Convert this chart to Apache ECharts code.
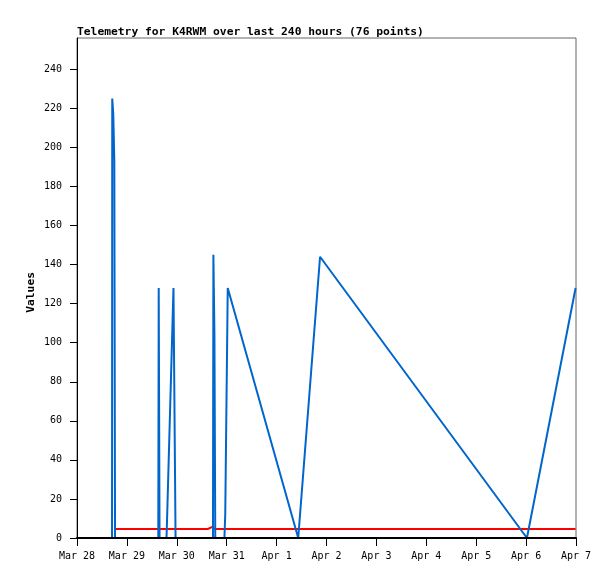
<!DOCTYPE html>
<html>
<head>
<meta charset="utf-8">
<script src="https://cdn.jsdelivr.net/npm/echarts@6/dist/echarts.min.js"></script>
<style>html,body{margin:0;padding:0;background:#fff}#c{width:615px;height:579px}</style>
</head>
<body>
<div id="c"></div>
<script>
// hours since Mar 28 00:00
const tickLabels = ['Mar 28','Mar 29','Mar 30','Mar 31','Apr 1','Apr 2','Apr 3','Apr 4','Apr 5','Apr 6','Apr 7'];
const yTicks = [0,20,40,60,80,100,120,140,160,180,200,220,240];
const blueHours = [16.85,16.95,17.45,17.95,18.25,18.3,39.1,39.3,39.35,39.7,43.05,43.3,46.4,47.1,47.4,65.4,65.6,66.05,66.1,66.5,70.9,71.3,72.5,106.4,116.9,216.4,239.8];
const blueValues = [0,225,217,193,193,0,0,128,128,0,0,9,128,128,0,0,145,145,104,0,0,12,128,0,144,0,128];
const redHours = [18.3,39.1,43.05,47.4,62.9,63.0,64.3,64.4,65.6,65.7,67.2,72.5,106.4,116.9,216.4,239.8];
const redValues = [4.6,4.6,4.6,4.6,4.6,5.3,5.3,5.9,5.9,4.6,4.6,4.6,4.6,4.6,4.6,4.6];

const font = 'DejaVu Sans Mono';
const chart = echarts.init(document.getElementById('c'), null, {renderer:'canvas'});
chart.setOption({
  animation: false,
  backgroundColor: '#fff',
  title: {
    text: 'Telemetry for K4RWM over last 240 hours (76 points)',
    left: 72, top: 22,
    textStyle: {fontFamily: font, fontSize: 11.3, fontWeight: 'bold', color: '#000'}
  },
  graphic: [{
    type: 'text', left: 26, top: 272, rotation: Math.PI/2,
    style: {text: 'Values', font: 'bold 11.3px "DejaVu Sans Mono"', fill: '#000'}
  }],
  grid: {left: 77, right: 39, top: 38, bottom: 41, show: true, borderColor: '#666', borderWidth: 1, backgroundColor: 'transparent'},
  xAxis: {
    type: 'value', min: 0, max: 240, interval: 24, z: 10,
    axisLine: {show: true, onZero: false, lineStyle: {color: '#000', width: 2}},
    axisTick: {show: true, inside: false, length: 8, lineStyle: {color: '#000', width: 1}},
    splitLine: {show: false},
    axisLabel: {
      margin: 13, color: '#000', fontFamily: font, fontSize: 10,
      formatter: v => tickLabels[Math.round(v/24)] || ''
    }
  },
  yAxis: {
    type: 'value', min: 0, max: 256, z: 10,
    axisLine: {show: true, lineStyle: {color: '#000', width: 1}},
    axisTick: {show: true, length: 7, customValues: yTicks, lineStyle: {color: '#000'}},
    splitLine: {show: false},
    axisLabel: {margin: 15, color: '#000', fontFamily: font, fontSize: 10, customValues: yTicks}
  },
  series: [
    {type: 'line', data: redHours.map((h,i)=>[h, redValues[i]]), showSymbol: false, lineStyle: {color: '#ff0000', width: 2}, itemStyle:{color:'#ff0000'}},
    {type: 'line', data: blueHours.map((h,i)=>[h, blueValues[i]]), showSymbol: false, lineStyle: {color: '#0066cc', width: 2}, itemStyle:{color:'#0066cc'}}
  ]
});
</script>
</body>
</html>
